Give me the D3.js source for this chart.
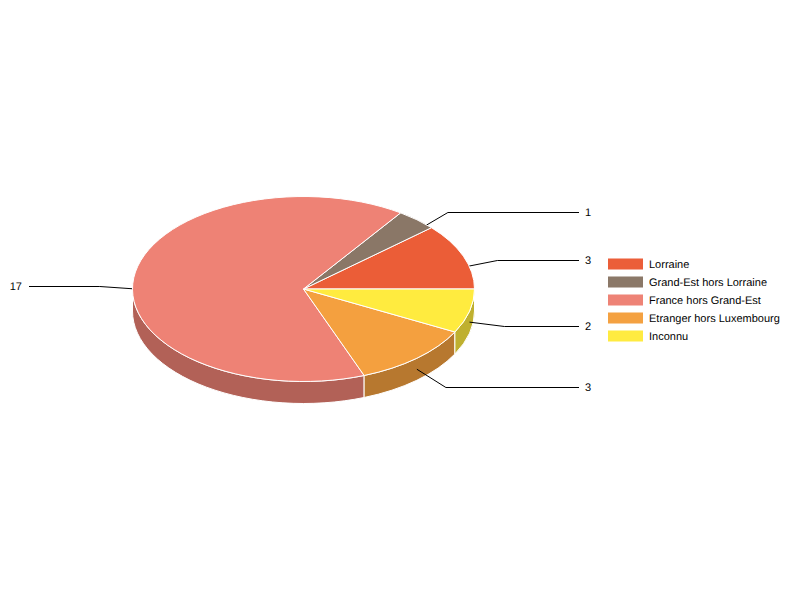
<!DOCTYPE html>
<html>
<head>
<meta charset="utf-8">
<script src="https://cdn.jsdelivr.net/npm/d3@7"></script>
<style>
  html, body { margin: 0; padding: 0; background: #fff; }
  text { font-family: "Liberation Sans", Arial, sans-serif; font-size: 11px; fill: #000; text-rendering: geometricPrecision; }
</style>
</head>
<body>
<div id="chart"></div>
<script>
const categories = ['Lorraine', 'Grand-Est hors Lorraine', 'France hors Grand-Est', 'Etranger hors Luxembourg', 'Inconnu'];
const values = [3, 1, 17, 3, 2];
const topColors = ['#eb5d37', '#8a7767', '#ee8275', '#f4a03f', '#ffeb3f'];
const sideColors = ['#b1472a', '#67594d', '#b26157', '#b7782f', '#bfb02f'];

const width = 800, height = 600;
const cx = 303.5, cy = 289, rx = 171, ry = 92.5, depth = 22;

// leader layout, same order as categories
const labelY = [260, 212, 286, 387, 326];
const elbowDx = [34, 31, -34, 29, 35];

const topColor = d3.scaleOrdinal().domain(categories).range(topColors);
const sideColor = d3.scaleOrdinal().domain(categories).range(sideColors);

const svg = d3.select('#chart').append('svg')
  .attr('width', width)
  .attr('height', height)
  .style('display', 'block');

// starts at 3 o'clock and runs anti-clockwise
const pie = d3.pie()
  .sort(null)
  .startAngle(Math.PI / 2)
  .endAngle(Math.PI / 2 - 2 * Math.PI);

const slices = pie(values).map((d, i) => ({ ...d, name: categories[i] }));

const px = a => cx + rx * Math.sin(a);
const py = (a, dy = 0) => cy - ry * Math.cos(a) + dy;

// side wall of a slice, only the part facing the viewer (9 o'clock round to 3 o'clock)
function wallPath(d) {
  const a0 = Math.min(d.startAngle, -Math.PI / 2);
  const a1 = Math.max(d.endAngle, -3 * Math.PI / 2);
  if (a0 <= a1) return null;
  return `M${px(a0)},${py(a0)}A${rx},${ry} 0 0 0 ${px(a1)},${py(a1)}`
    + `L${px(a1)},${py(a1, depth)}A${rx},${ry} 0 0 1 ${px(a0)},${py(a0, depth)}Z`;
}

svg.append('g').selectAll('path')
  .data(slices.filter(d => wallPath(d)))
  .join('path')
  .attr('d', wallPath)
  .attr('fill', d => sideColor(d.name))
  .attr('stroke', '#fff')
  .attr('stroke-width', 1);

// leaders sit above the walls but under the top face
const leaders = svg.append('g');
const valueLabels = svg.append('g').attr('opacity', 0.99);
slices.forEach((d, i) => {
  const mid = (d.startAngle + d.endAngle) / 2;
  const x0 = px(mid), y0 = py(mid, depth / 2);
  const right = elbowDx[i] > 0;
  const lineY = labelY[i] + 0.5;
  leaders.append('path')
    .attr('d', d3.line()([[x0, y0], [x0 + elbowDx[i], lineY], [right ? 579 : 29, lineY]]))
    .attr('fill', 'none')
    .attr('stroke', '#000')
    .attr('stroke-width', 1);
  valueLabels.append('text')
    .attr('x', right ? 585 : 22)
    .attr('y', labelY[i] + 4)
    .attr('text-anchor', right ? 'start' : 'end')
    .text(d.value);
});

const arc = d3.arc().innerRadius(0).outerRadius(rx);

svg.append('g')
  .attr('transform', `translate(${cx},${cy}) scale(1,${ry / rx})`)
  .selectAll('path')
  .data(slices)
  .join('path')
  .attr('d', arc)
  .attr('fill', d => topColor(d.name))
  .attr('stroke', '#fff')
  .attr('stroke-width', 1)
  .attr('vector-effect', 'non-scaling-stroke');

// legend
const legend = svg.append('g')
  .attr('opacity', 0.99)
  .selectAll('g')
  .data(categories)
  .join('g')
  .attr('transform', (d, i) => `translate(608,${258.5 + i * 18})`);

legend.append('rect')
  .attr('width', 35)
  .attr('height', 11)
  .attr('fill', d => topColor(d));

legend.append('text')
  .attr('x', 41)
  .attr('y', 9.5)
  .text(d => d);
</script>
</body>
</html>
